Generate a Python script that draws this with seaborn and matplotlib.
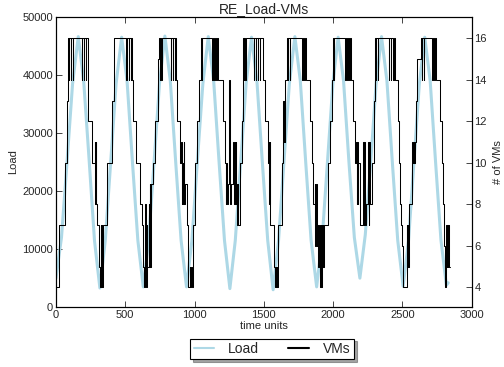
import matplotlib
matplotlib.use("Agg")
import matplotlib.pyplot as plt
import seaborn as sns
import pandas as pd

# ---- data ----
load_t = [0, 40, 80, 120, 161, 200, 239, 278, 317,
          356, 395, 434, 474, 513, 552, 591, 630,
          669, 708, 747, 786, 825, 864, 903, 942,
          981, 1020, 1060, 1099, 1138, 1177, 1216, 1255,
          1294, 1333, 1372, 1411, 1450, 1489, 1528, 1567,
          1606, 1645, 1684, 1724, 1763, 1802, 1841, 1881,
          1920, 1959, 1998, 2036, 2075, 2114, 2153, 2193,
          2232, 2271, 2310, 2349, 2388, 2427, 2466, 2505,
          2544, 2583, 2622, 2661, 2700, 2739, 2778, 2817, 2830]
load_v = [5000, 12000, 25000, 38500, 46600, 39000, 25500, 11500, 3300,
          11500, 25000, 38500, 46500, 39000, 25000, 11500, 3500,
          11500, 25000, 38500, 46700, 39000, 25000, 11500, 3500,
          11500, 25000, 38500, 46600, 39000, 25000, 11500, 3200,
          11500, 25000, 38500, 46500, 39000, 25000, 11500, 3000,
          11500, 25000, 38500, 46600, 39000, 25000, 11500, 3500,
          11500, 25000, 38500, 46500, 39000, 25000, 12000, 5000,
          12500, 25000, 38500, 46600, 39000, 25000, 11500, 3600,
          11500, 25000, 38500, 46500, 39000, 25000, 11500, 3800, 4200]

# (time, number of VMs) at every change of the VM count
vm_steps = [
    # cycle 1
    (0, 4), (20, 7), (62, 10), (77, 13), (88, 16),
    (92, 14), (94, 16), (106, 14), (108, 16), (120, 14), (122, 16),
    (188, 14), (190, 16), (203, 14), (205, 16), (218, 14), (220, 16), (228, 14),
    (232, 12), (263, 10), (280, 11), (283, 8), (287, 11), (291, 8), (295, 7),
    (313, 5), (317, 4), (322, 7), (325, 4), (331, 7), (334, 4), (340, 7),
    # cycle 2
    (368, 10), (404, 13), (416, 16),
    (509, 14), (511, 16), (524, 14), (526, 16), (539, 14), (541, 16), (550, 14),
    (555, 12), (580, 10), (603, 8), (620, 7), (627, 5), (632, 4), (645, 8), (648, 4),
    (656, 7), (660, 5), (668, 8), (671, 5), (676, 9), (680, 5), (684, 9),
    (697, 10), (716, 12), (735, 15), (745, 16),
    # cycle 3
    (750, 14), (752, 16), (760, 14), (762, 16),
    (828, 14), (830, 16), (843, 14), (845, 16), (858, 14), (860, 16), (867, 14),
    (872, 12), (896, 10), (905, 11), (908, 8), (913, 10), (917, 8), (921, 11), (925, 8),
    (930, 9), (944, 7), (956, 4), (966, 5), (970, 4), (977, 5), (981, 4), (987, 7),
    # cycle 4
    (1004, 10), (1016, 12), (1030, 14), (1050, 16),
    (1055, 14), (1057, 16),
    (1128, 14), (1130, 16), (1143, 14), (1145, 16), (1158, 14), (1160, 16), (1172, 14),
    (1208, 12), (1221, 10), (1224, 8), (1228, 10), (1231, 8), (1240, 9), (1250, 14),
    (1253, 8), (1265, 9), (1281, 11), (1284, 8), (1289, 11), (1293, 8), (1298, 11),
    (1301, 8), (1305, 9), (1308, 7), (1313, 9), (1316, 7), (1329, 10), (1341, 12),
    (1353, 16),
    # cycle 5
    (1358, 14), (1360, 16), (1366, 14), (1368, 16),
    (1428, 14), (1430, 16), (1443, 14), (1445, 16), (1458, 14), (1460, 16), (1470, 14),
    (1472, 16),
    (1497, 14), (1509, 12), (1533, 10), (1536, 11), (1539, 8), (1542, 11), (1545, 7),
    (1576, 5), (1581, 4), (1586, 5), (1589, 4), (1594, 5), (1597, 4), (1600, 7),
    (1629, 10), (1640, 13), (1643, 11), (1647, 13), (1650, 11), (1653, 14), (1670, 16),
    # cycle 6
    (1675, 14), (1677, 16), (1689, 14), (1691, 16),
    (1777, 14), (1779, 16), (1792, 14), (1794, 16), (1804, 14),
    (1833, 12), (1845, 10), (1857, 8), (1869, 9), (1872, 6), (1876, 9), (1880, 6),
    (1884, 7), (1893, 5), (1900, 7), (1904, 4), (1909, 7), (1913, 4), (1918, 7),
    (1921, 5), (1925, 7), (1928, 5), (1931, 7), (1965, 10), (1977, 12), (1989, 14),
    (2001, 16),
    # cycle 7
    (2006, 14), (2008, 16),
    (2088, 14), (2090, 16), (2103, 14), (2105, 16), (2118, 14), (2120, 16), (2128, 14),
    (2146, 12), (2158, 10), (2165, 11), (2169, 8), (2173, 11), (2177, 8), (2182, 10),
    (2195, 7), (2218, 11), (2221, 7), (2225, 11), (2229, 7), (2237, 8), (2254, 11),
    (2258, 7), (2262, 11), (2266, 8), (2278, 10), (2293, 13), (2305, 16),
    # cycle 8
    (2310, 14), (2312, 16), (2322, 14), (2324, 16),
    (2404, 14), (2406, 16), (2419, 14), (2421, 16), (2434, 14), (2436, 16), (2444, 14),
    (2468, 12), (2478, 10), (2485, 8), (2492, 7), (2497, 6), (2502, 4), (2533, 7),
    (2536, 5), (2540, 7), (2543, 5), (2547, 8), (2569, 10), (2572, 11), (2577, 10),
    (2581, 11), (2586, 10), (2590, 11), (2597, 13), (2603, 15), (2636, 16),
    # cycle 9
    (2641, 14), (2643, 16), (2654, 14), (2656, 16),
    (2716, 14), (2718, 16), (2731, 14), (2733, 16), (2743, 14),
    (2773, 12), (2785, 10), (2792, 8), (2797, 6), (2804, 4), (2814, 7), (2818, 5),
    (2822, 7), (2826, 5), (2830, 7), (2834, 5), (2840, 5),
]
vm_t = [s[0] for s in vm_steps]
vm_v = [s[1] for s in vm_steps]

x_ticks = [0, 500, 1000, 1500, 2000, 2500, 3000]
load_ticks = [0, 10000, 20000, 30000, 40000, 50000]
vm_ticks = [4, 6, 8, 10, 12, 14, 16]

# ---- style ----
sns.set_style("ticks")
plt.rcParams['font.family'] = ['Liberation Sans', 'DejaVu Sans']
plt.rcParams['xtick.direction'] = 'in'
plt.rcParams['ytick.direction'] = 'in'

fig = plt.figure(figsize=(5.04, 3.67), dpi=100)
ax = fig.add_axes([0.111, 0.163, 0.825, 0.791])
ax2 = ax.twinx()

load_df = pd.DataFrame({"t": load_t, "Load": load_v})
vm_df = pd.DataFrame({"t": vm_t, "VMs": vm_v})

sns.lineplot(data=load_df, x="t", y="Load", ax=ax, color="#add8e6", lw=2.2,
             estimator=None, sort=False, label="Load", legend=False)
sns.lineplot(data=vm_df, x="t", y="VMs", ax=ax2, color="black", lw=0.75,
             drawstyle="steps-post", estimator=None, sort=False, label="VMs", legend=False)

ax.set_xlim(0, 3000)
ax.set_ylim(0, 50000)
ax2.set_ylim(3.04, 17.03)
ax.set_xticks(x_ticks)
ax.set_yticks(load_ticks)
ax2.set_yticks(vm_ticks)
ax.tick_params(axis='both', labelsize=8, length=4, width=0.6, top=True, right=False,
               pad=2)
ax2.tick_params(axis='y', labelsize=8, length=4, width=0.6, pad=2)
for a in (ax, ax2):
    for s in a.spines.values():
        s.set_linewidth(0.8)
        s.set_color("black")

ax.set_xlabel("time units", fontsize=8, labelpad=1)
ax.set_ylabel("Load", fontsize=8, labelpad=3)
ax2.set_ylabel("# of VMs", fontsize=8, labelpad=4)
ax.set_title("RE_Load-VMs", fontsize=10, pad=3)

h1, l1 = ax.get_legend_handles_labels()
h2, l2 = ax2.get_legend_handles_labels()
leg = fig.legend(h1 + h2, l1 + l2, loc="center", bbox_to_anchor=(0.54, 0.049),
                 ncol=2, fontsize=10, frameon=True, shadow=True, fancybox=False,
                 handlelength=1.5, columnspacing=2.1, borderpad=0.25,
                 handletextpad=1.0, borderaxespad=0)
leg.get_frame().set_edgecolor("black")
leg.get_frame().set_linewidth(0.8)
for line in leg.get_lines():
    line.set_linewidth(1.5)

fig.savefig("out.png", dpi=100)
